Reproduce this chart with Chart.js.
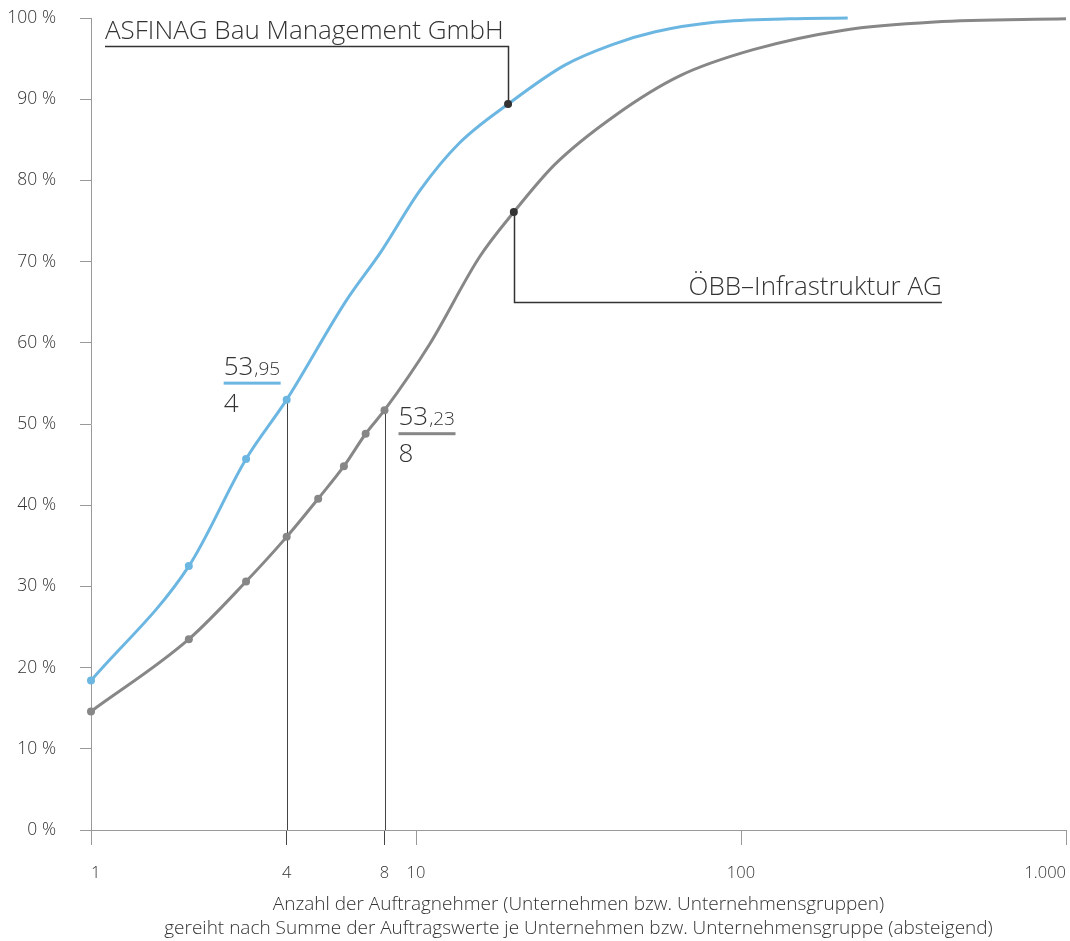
<!DOCTYPE html>
<html lang="de">
<head>
    <meta charset="UTF-8">
    <title>Auftragnehmer kumuliert</title>
    <script src="https://cdn.jsdelivr.net/npm/chart.js"></script>
    <style>
        body { margin: 0; background: #fff; }
    </style>
</head>
<body>
    <canvas id="curveChart" width="1070" height="941"></canvas>
    <script>
        // ASFINAG Bau Management GmbH (blau)
        const asfinagX = [1, 2, 3, 4, 6.1, 7.8, 10.3, 13.6, 19.2, 28.7, 40, 54.5, 84, 141, 213];
        const asfinagY = [18.4, 32.5, 45.7, 53.0, 65.2, 71.2, 78.8, 84.6, 89.4, 94.2, 96.7, 98.3, 99.5, 99.9, 100];

        // ÖBB-Infrastruktur AG (grau)
        const oebbX = [1, 2, 3, 4, 5, 6, 7, 8, 11, 15.7, 20, 26.8, 41, 65, 109, 207, 394, 1000];
        const oebbY = [14.6, 23.5, 30.6, 36.1, 40.8, 44.8, 48.8, 51.7, 59.8, 70.6, 76.1, 82.0, 88.0, 92.9, 96.1, 98.5, 99.5, 99.9];

        const xTickValues = [1, 4, 8, 10, 100, 1000];
        const xTickLabels = ['1', '4', '8', '10', '100', '1.000'];
        const yTickValues = [0, 10, 20, 30, 40, 50, 60, 70, 80, 90, 100];

        const asfinagName = 'ASFINAG Bau Management GmbH';
        const oebbName = 'ÖBB–Infrastruktur AG';
        const asfinagShare = ['53', ',95', '4'];
        const oebbShare = ['53', ',23', '8'];

        const BLUE = '#6cb6e2';
        const GREY = '#878787';
        const DARK = '#333333';
        const FONT = '"Open Sans", "DejaVu Sans", sans-serif';

        const asfinagMarkers = 4, oebbMarkers = 8;
        const asfinagPin = 8, oebbPin = 10;

        function toPoints(xs, ys) {
            return xs.map((v, i) => ({ x: v, y: ys[i] }));
        }

        function markerRadius(count, pin) {
            return ctx => (ctx.dataIndex < count || ctx.dataIndex === pin) ? 4 : 0;
        }
        function markerColor(count, pin, color) {
            return ctx => ctx.dataIndex === pin ? DARK : color;
        }

        const annotations = {
            id: 'annotations',
            beforeDatasetsDraw(chart) {
                const { ctx, scales: { x, y } } = chart;
                ctx.save();
                ctx.strokeStyle = '#444';
                ctx.lineWidth = 1;
                // Fallhilfslinien bei 4 und 8
                [[4, asfinagY[3]], [8, oebbY[7]]].forEach(([vx, vy]) => {
                    const px = Math.round(x.getPixelForValue(vx)) + 0.5;
                    ctx.beginPath();
                    ctx.moveTo(px, y.getPixelForValue(vy));
                    ctx.lineTo(px, y.bottom);
                    ctx.stroke();
                });

                // Leader lines
                ctx.strokeStyle = DARK;
                ctx.lineWidth = 1.5;
                const ax = Math.round(x.getPixelForValue(asfinagX[asfinagPin])) + 0.5;
                const ay = y.getPixelForValue(asfinagY[asfinagPin]);
                const aTop = Math.round(y.getPixelForValue(96.5)) + 0.5;
                ctx.beginPath();
                ctx.moveTo(ax, ay);
                ctx.lineTo(ax, aTop);
                ctx.lineTo(x.left + 14, aTop);
                ctx.stroke();

                const ox = Math.round(x.getPixelForValue(oebbX[oebbPin])) + 0.5;
                const oy = y.getPixelForValue(oebbY[oebbPin]);
                const oBot = Math.round(y.getPixelForValue(65)) + 0.5;
                const oRight = x.getPixelForValue(415);
                ctx.beginPath();
                ctx.moveTo(ox, oy);
                ctx.lineTo(ox, oBot);
                ctx.lineTo(oRight, oBot);
                ctx.stroke();
                ctx.restore();
            },
            afterDatasetsDraw(chart) {
                const { ctx, scales: { x, y } } = chart;
                ctx.save();
                ctx.fillStyle = DARK;
                ctx.textBaseline = 'alphabetic';

                ctx.font = '300 26px ' + FONT;
                ctx.textAlign = 'left';
                ctx.fillText(asfinagName, x.left + 14, y.getPixelForValue(96.5) - 7);
                ctx.textAlign = 'right';
                ctx.fillText(oebbName, x.getPixelForValue(415), y.getPixelForValue(65) - 7);

                ctx.textAlign = 'left';
                const drawShare = (parts, left, base, color) => {
                    ctx.fillStyle = DARK;
                    ctx.font = '300 26px ' + FONT;
                    ctx.fillText(parts[0], left, base);
                    const w = ctx.measureText(parts[0]).width;
                    ctx.font = '300 19px ' + FONT;
                    ctx.fillText(parts[1], left + w + 1, base);
                    ctx.fillStyle = color;
                    ctx.fillRect(left, base + 7, 57, 3);
                    ctx.fillStyle = DARK;
                    ctx.font = '300 26px ' + FONT;
                    ctx.fillText(parts[2], left, base + 37);
                };
                const bx = x.getPixelForValue(4), by = y.getPixelForValue(asfinagY[3]);
                drawShare(asfinagShare, bx - 63, by - 25, BLUE);
                const gx = x.getPixelForValue(8), gy = y.getPixelForValue(oebbY[7]);
                drawShare(oebbShare, gx + 14, gy + 15, GREY);
                ctx.restore();
            }
        };

        new Chart(document.getElementById('curveChart').getContext('2d'), {
            type: 'line',
            data: {
                datasets: [{
                    label: asfinagName,
                    data: toPoints(asfinagX, asfinagY),
                    borderColor: BLUE,
                    borderWidth: 3,
                    cubicInterpolationMode: 'monotone',
                    pointRadius: markerRadius(asfinagMarkers, asfinagPin),
                    pointBackgroundColor: markerColor(asfinagMarkers, asfinagPin, BLUE),
                    pointBorderWidth: 0,
                    clip: false,
                    fill: false
                }, {
                    label: oebbName,
                    data: toPoints(oebbX, oebbY),
                    borderColor: GREY,
                    borderWidth: 3,
                    cubicInterpolationMode: 'monotone',
                    pointRadius: markerRadius(oebbMarkers, oebbPin),
                    pointBackgroundColor: markerColor(oebbMarkers, oebbPin, GREY),
                    pointBorderWidth: 0,
                    clip: false,
                    fill: false
                }]
            },
            options: {
                responsive: false,
                animation: false,
                layout: { padding: { top: 18, right: 2, left: 0, bottom: 0 } },
                plugins: {
                    legend: { display: false },
                    tooltip: { enabled: false }
                },
                scales: {
                    x: {
                        type: 'logarithmic',
                        min: 1,
                        max: 1000,
                        afterBuildTicks: scale => {
                            scale.ticks = xTickValues.map(v => ({ value: v }));
                        },
                        afterFit: scale => {
                            scale.height = 111;
                            scale.paddingLeft = 0;
                            scale.paddingRight = 0;
                        },
                        border: { color: '#999', width: 1 },
                        grid: {
                            drawOnChartArea: false,
                            tickLength: 15,
                            color: ctx => (ctx.tick && (ctx.tick.value === 4 || ctx.tick.value === 8)) ? '#444' : '#999'
                        },
                        ticks: {
                            align: 'inner',
                            autoSkip: false,
                            maxRotation: 0,
                            padding: 18,
                            color: '#333',
                            font: { family: FONT, size: 16.5, weight: 300 },
                            callback: value => {
                                const i = xTickValues.indexOf(value);
                                return i >= 0 ? xTickLabels[i] : '';
                            }
                        },
                        title: {
                            display: true,
                            text: [
                                'Anzahl der Auftragnehmer (Unternehmen bzw. Unternehmensgruppen)',
                                'gereiht nach Summe der Auftragswerte je Unternehmen bzw. Unternehmensgruppe (absteigend)'
                            ],
                            color: '#333',
                            font: { family: FONT, size: 19, weight: 300, lineHeight: 1.26 },
                            padding: { top: 0, bottom: 0 }
                        }
                    },
                    y: {
                        min: 0,
                        max: 100,
                        afterBuildTicks: scale => {
                            scale.ticks = yTickValues.map(v => ({ value: v }));
                        },
                        afterFit: scale => {
                            scale.width = 91;
                            scale.paddingTop = 0;
                            scale.paddingBottom = 0;
                        },
                        border: { color: '#999', width: 1 },
                        grid: {
                            drawOnChartArea: false,
                            tickLength: 11,
                            color: '#999'
                        },
                        ticks: {
                            padding: 24,
                            color: '#333',
                            font: { family: FONT, size: 17.5, weight: 300 },
                            callback: value => value + ' %'
                        }
                    }
                }
            },
            plugins: [annotations]
        });
    </script>
</body>
</html>
